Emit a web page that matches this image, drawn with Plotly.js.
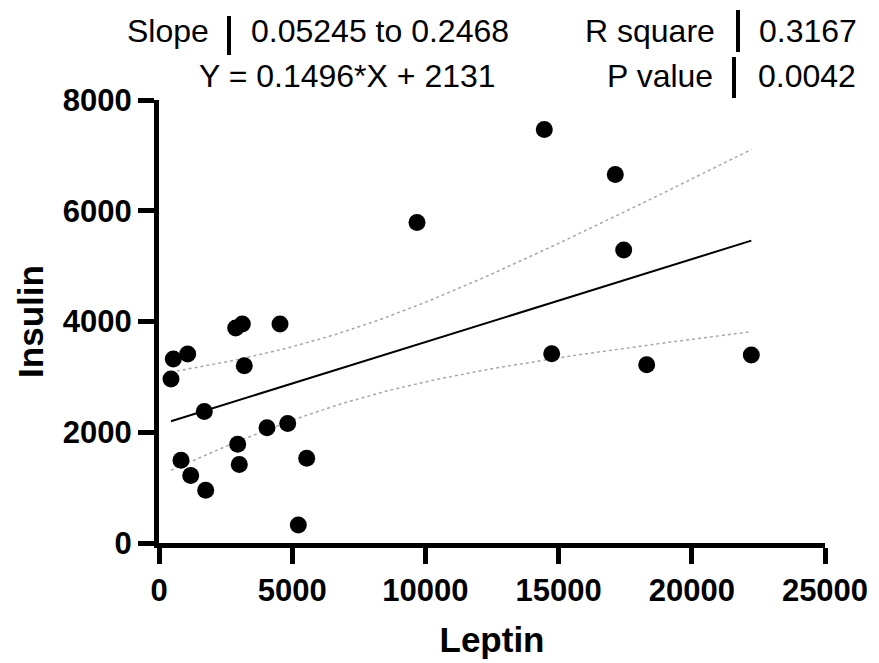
<!DOCTYPE html>
<html>
<head>
<meta charset="utf-8">
<script src="https://cdn.plot.ly/plotly-3.0.1.min.js"></script>
<style>html,body{margin:0;padding:0;background:#fff;}#chart{width:879px;height:663px;}</style>
</head>
<body>
<div id="chart"></div>
<script>
// ---- data ----
const leptin = [450, 537, 1077, 826, 1190, 1753, 1700, 2879, 3127, 3202, 2954, 3014,
                4054, 4831, 4542, 5544, 5229, 9685, 14463, 14741, 17128, 17443, 18307, 22234];
const insulin = [2960, 3322, 3412, 1495, 1217, 953, 2374, 3882, 3955, 3201, 1785, 1416,
                 2080, 2157, 3955, 1532, 325, 5787, 7468, 3418, 6655, 5293, 3219, 3394];
const xTickVals = [0, 5000, 10000, 15000, 20000, 25000];
const yTickVals = [0, 2000, 4000, 6000, 8000];
const statLabelsLeft = ["Slope"];
const statValuesLeft = ["0.05245 to 0.2468"];
const equationText = "Y = 0.1496*X + 2131";
const statLabelsRight = ["R square", "P value"];
const statValuesRight = ["0.3167", "0.0042"];
const tCrit = 2.074; // t(0.975, df=22)

// ---- linear regression with 95% confidence band ----
const n = leptin.length;
const mx = leptin.reduce((a, b) => a + b, 0) / n;
const my = insulin.reduce((a, b) => a + b, 0) / n;
let sxx = 0, sxy = 0;
for (let i = 0; i < n; i++) { sxx += (leptin[i] - mx) ** 2; sxy += (leptin[i] - mx) * (insulin[i] - my); }
const slope = sxy / sxx, icpt = my - slope * mx;
let sse = 0;
for (let i = 0; i < n; i++) sse += (insulin[i] - (icpt + slope * leptin[i])) ** 2;
const s = Math.sqrt(sse / (n - 2));
const xmin = Math.min(...leptin), xmax = Math.max(...leptin);
const fx = [], fy = [], up = [], lo = [];
const steps = 60;
for (let k = 0; k <= steps; k++) {
  const x = xmin + (xmax - xmin) * k / steps;
  const y = icpt + slope * x;
  const h = tCrit * s * Math.sqrt(1 / n + (x - mx) ** 2 / sxx);
  fx.push(x); fy.push(y); up.push(y + h); lo.push(y - h);
}

const FONT = "'Liberation Sans', Arial, sans-serif";
const traces = [
  { x: fx, y: up, mode: 'lines', line: { color: '#a8a8a8', width: 1.5, dash: 'dot' }, hoverinfo: 'skip' },
  { x: fx, y: lo, mode: 'lines', line: { color: '#a8a8a8', width: 1.5, dash: 'dot' }, hoverinfo: 'skip' },
  { x: [fx[0], fx[fx.length - 1]], y: [fy[0], fy[fy.length - 1]], mode: 'lines', line: { color: '#000', width: 2 } },
  { x: leptin, y: insulin, mode: 'markers', marker: { color: '#000', size: 17 }, cliponaxis: false }
];

const annFont = { family: FONT, size: 32, color: '#000' };
const layout = {
  width: 879, height: 663,
  margin: { l: 159, r: 54, t: 100, b: 120 },
  showlegend: false,
  paper_bgcolor: '#fff', plot_bgcolor: '#fff',
  font: { family: FONT, color: '#000' },
  xaxis: {
    range: [0, 25000], tickvals: xTickVals, ticktext: xTickVals.map(String),
    showgrid: false, zeroline: false, showline: true, linecolor: '#000', linewidth: 5,
    ticks: 'outside', ticklen: 16, tickwidth: 5, tickcolor: '#000',
    tickfont: { family: FONT, size: 31, color: '#000', weight: 'bold' },
    title: { text: '<b>Leptin</b>', font: { family: FONT, size: 35, color: '#000' }, standoff: 22 },
    automargin: false
  },
  yaxis: {
    range: [0, 8000], tickvals: yTickVals, ticktext: yTickVals.map(String),
    showgrid: false, zeroline: false, showline: true, linecolor: '#000', linewidth: 5,
    ticks: 'outside', ticklen: 16, tickwidth: 5, tickcolor: '#000',
    tickfont: { family: FONT, size: 31, color: '#000', weight: 'bold' },
    title: { text: '<b>Insulin</b>', font: { family: FONT, size: 35, color: '#000' }, standoff: 10 },
    automargin: false
  },
  annotations: [
    { text: statLabelsLeft[0], xref: 'paper', yref: 'paper', x: 0.0781, y: 1.156, xanchor: 'right', yanchor: 'middle', showarrow: false, font: annFont },
    { text: statValuesLeft[0], xref: 'paper', yref: 'paper', x: 0.1351, y: 1.156, xanchor: 'left', yanchor: 'middle', showarrow: false, font: annFont },
    { text: equationText, xref: 'paper', yref: 'paper', x: 0.0571, y: 1.054, xanchor: 'left', yanchor: 'middle', showarrow: false, font: annFont },
    { text: statLabelsRight[0], xref: 'paper', yref: 'paper', x: 0.8378, y: 1.156, xanchor: 'right', yanchor: 'middle', showarrow: false, font: annFont },
    { text: statValuesRight[0], xref: 'paper', yref: 'paper', x: 0.8979, y: 1.156, xanchor: 'left', yanchor: 'middle', showarrow: false, font: annFont },
    { text: statLabelsRight[1], xref: 'paper', yref: 'paper', x: 0.8348, y: 1.054, xanchor: 'right', yanchor: 'middle', showarrow: false, font: annFont },
    { text: statValuesRight[1], xref: 'paper', yref: 'paper', x: 0.8964, y: 1.054, xanchor: 'left', yanchor: 'middle', showarrow: false, font: annFont }
  ],
  shapes: [
    { type: 'line', xref: 'paper', yref: 'paper', x0: 0.1051, x1: 0.1051, y0: 1.1016, y1: 1.1896, line: { color: '#000', width: 4 } },
    { type: 'line', xref: 'paper', yref: 'paper', x0: 0.8694, x1: 0.8694, y0: 1.1084, y1: 1.2032, line: { color: '#000', width: 4 } },
    { type: 'line', xref: 'paper', yref: 'paper', x0: 0.8634, x1: 0.8634, y0: 1.0045, y1: 1.0971, line: { color: '#000', width: 4 } }
  ]
};

Plotly.newPlot('chart', traces, layout, { displayModeBar: false, staticPlot: true });
</script>
</body>
</html>
